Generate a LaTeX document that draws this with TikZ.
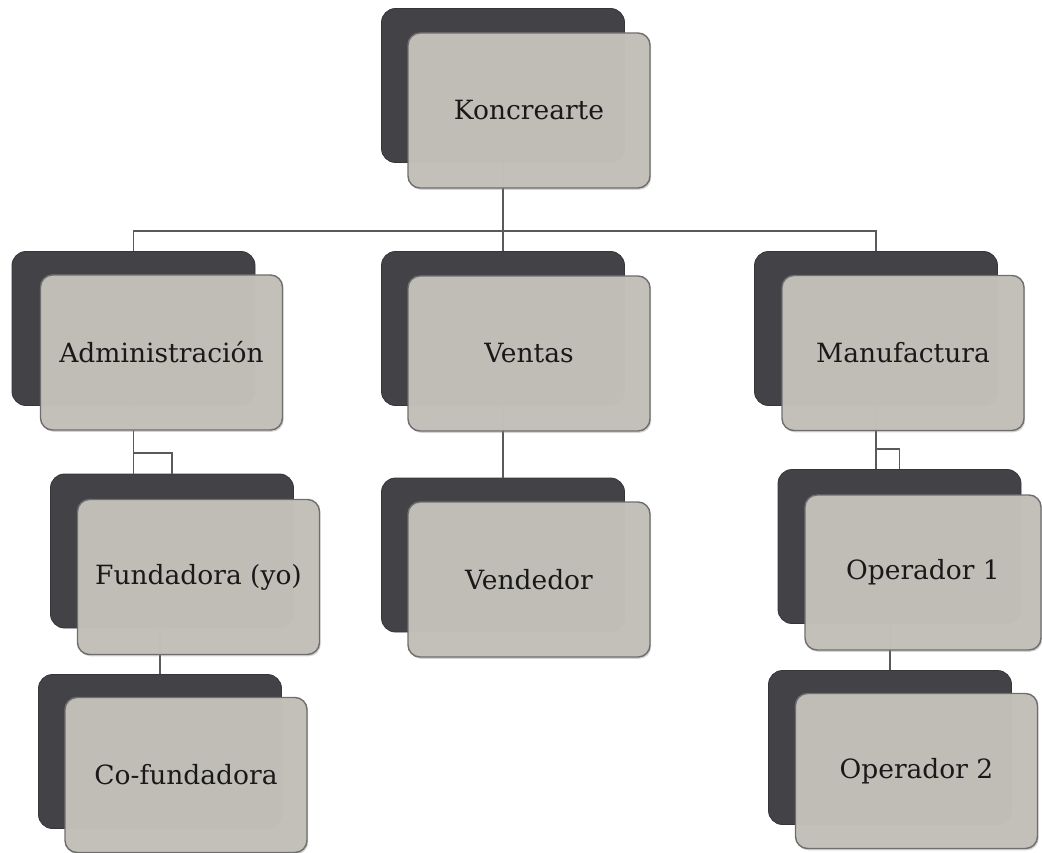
\documentclass[tikz,border=0pt]{standalone}
\usepackage{fontspec}
\setmainfont{DejaVu Serif}
\usetikzlibrary{shadows}
\definecolor{darkbox}{HTML}{434247}
\definecolor{lightbox}{HTML}{C3C0B9}
\definecolor{lightedge}{HTML}{6E6E6E}
\definecolor{linkcol}{HTML}{5A5A5A}
\tikzset{
  backbox/.style={draw=darkbox!80!black, line width=0.8pt, fill=darkbox, rounded corners=14pt,
    minimum width=243pt, minimum height=154pt, inner sep=0pt},
  frontbox/.style={draw=lightedge, line width=1.4pt, fill=lightbox, fill opacity=0.98, text opacity=1,
    rounded corners=12pt, minimum width=242pt, minimum height=155pt, inner sep=0pt,
    text=black!90, font=\fontsize{26.5}{30}\selectfont,
    drop shadow={shadow xshift=1.2pt, shadow yshift=-1.8pt, opacity=0.35}},
  link/.style={draw=linkcol, line width=1.3pt}
}
\begin{document}
\begin{tikzpicture}[x=1pt,y=-1pt]
\useasboundingbox (0,0) rectangle (1042,853);
% back boxes
\node[backbox] (Kd)  at (503,85.5) {};
\node[backbox] (Ad)  at (133.5,328.5) {};
\node[backbox] (Vd)  at (503,328.5) {};
\node[backbox] (Md)  at (876,328.5) {};
\node[backbox] (Fd)  at (172,551) {};
\node[backbox] (Cd)  at (160,751.5) {};
\node[backbox] (Ved) at (503,555) {};
\node[backbox] (O1d) at (899.5,546.5) {};
\node[backbox] (O2d) at (890,747.5) {};
% connectors
\coordinate (hub) at (503,231);
\coordinate (abr) at (133.5,453);
\coordinate (mbr) at (876,449);
\draw[link] (Kd.south) -- (hub);
\draw[link] (Ad.north) |- (hub) -| (Md.north);
\draw[link] (hub) -- (Vd.north);
\draw[link] (Ad.south) -- (Ad.south |- Fd.north);
\draw[link] (abr) -| (Fd.north);
\draw[link] (Cd.north) -- (Cd.north |- Fd.south);
\draw[link] (Vd.south) -- (Ved.north);
\draw[link] (Md.south) -- (Md.south |- O1d.north);
\draw[link] (mbr) -| (O1d.north);
\draw[link] (O2d.north) -- (O2d.north |- O1d.south);
% front boxes
\node[frontbox] (K)  at (529,110.5) {Koncrearte};
\node[frontbox] (A)  at (161.5,352.5) {Administración};
\node[frontbox] (V)  at (529,353.5) {Ventas};
\node[frontbox] (M)  at (903,353) {Manufactura};
\node[frontbox] (F)  at (198.5,577) {Fundadora (yo)};
\node[frontbox] (C)  at (186,775) {Co-fundadora};
\node[frontbox] (Ve) at (529,579.5) {Vendedor};
\node[frontbox, minimum width=236pt] (O1) at (923,572.5) {Operador 1};
\node[frontbox] (O2) at (916.5,771) {Operador 2};
\end{tikzpicture}
\end{document}
